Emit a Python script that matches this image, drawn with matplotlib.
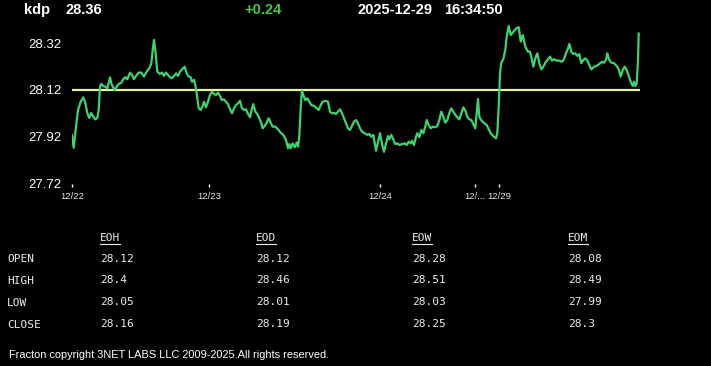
import matplotlib
matplotlib.use("Agg")
import matplotlib.pyplot as plt
from matplotlib.lines import Line2D

# ---------------- data ----------------
symbol = "kdp"
last_price = "28.36"
change = "+0.24"
date_str = "2025-12-29"
time_str = "16:34:50"
base_price = 28.12

t = [0, 1.7, 3.3, 6, 8.7, 11.3, 13.3, 15.3, 17.3, 19.3,
     21.3, 23.3, 25.3, 26.7, 28, 29.3, 31.3, 33.3, 35.3, 36.7,
     38, 39.3, 40.7, 42.7, 44.7, 46.7, 49.3, 51.3, 53.3, 55.3,
     58, 60, 62, 64, 66.7, 69.3, 72, 74.7, 77.3, 79.3,
     80.7, 82, 83.3, 85.3, 88, 90, 92, 94, 96, 98,
     100, 102, 104, 106, 108, 110, 112.7, 114.7, 116.7, 118.7,
     120, 122, 123.3, 124.7, 126.7, 128.7, 130.7, 132, 134, 136,
     138, 140, 142, 144, 146, 148, 150, 152, 154, 156,
     158, 160, 162, 164, 166, 168, 170, 172, 174, 176,
     178, 180, 181.3, 183.3, 185.3, 187.3, 189.3, 190.7, 192.7, 194.7,
     196.7, 198.7, 200.7, 203.3, 206, 208.7, 211.3, 214, 216, 217.3,
     218.7, 220.7, 222.7, 224.7, 226, 227.3, 228.7, 230, 231.3, 233.3,
     235.3, 237.3, 239.3, 242, 244.7, 246.7, 248.7, 250.7, 253.3, 256,
     258, 260, 262, 264, 266, 268, 270, 272, 274, 276,
     278, 280, 282, 284, 286, 288, 290, 292.7, 295.3, 297.3,
     299.3, 301.3, 302.7, 304, 306, 308, 310, 312, 314, 316,
     317.3, 319.3, 321.3, 323.3, 325.3, 327.3, 330, 332.7, 334.7, 336.7,
     338.7, 340, 342, 344, 345.3, 347.3, 349.3, 351.3, 353.3, 354.7,
     356.7, 358.7, 360.7, 363.3, 365.3, 367.3, 369.3, 371.3, 373.3, 375.3,
     377.3, 379.3, 381.3, 383.3, 385.3, 387.3, 389.3, 391.3, 393.3, 395.3,
     397.3, 399.3, 401.3, 403.3, 404.7, 406, 407.3, 408.7, 410.7, 412.7,
     414.7, 416.7, 418.7, 421.3, 424, 425.3, 426.7, 428, 429.3, 431.3,
     433.3, 434.7, 436.7, 438.7, 440.7, 442.7, 444.7, 446.7, 448.7, 450.7,
     453.3, 456, 458, 460, 461.3, 463.3, 465.3, 467.3, 469.3, 471.3,
     473.3, 476, 478, 480, 482, 484.7, 487.3, 490, 492, 494,
     496, 497.3, 499.3, 501.3, 503.3, 505.3, 507.3, 509.3, 511.3, 513.3,
     515.3, 517.3, 519.3, 522, 524.7, 527.3, 530, 532, 534, 535.3,
     537.3, 539.3, 542, 544.7, 546.7, 548.7, 550.7, 552.7, 554.7, 556.7,
     558.7, 560.7, 562, 563.3, 564.7, 566, 566.7]

price = [27.929, 27.874, 27.937, 28.035, 28.070, 28.089, 28.065, 28.022, 28.001, 28.022,
         28.006, 27.995, 28.001, 28.035, 28.134, 28.146, 28.137, 28.134, 28.127, 28.149,
         28.174, 28.149, 28.134, 28.120, 28.134, 28.146, 28.151, 28.166, 28.174, 28.166,
         28.194, 28.184, 28.166, 28.180, 28.194, 28.194, 28.177, 28.198, 28.212, 28.234,
         28.290, 28.333, 28.290, 28.198, 28.188, 28.194, 28.180, 28.194, 28.184, 28.174,
         28.170, 28.180, 28.191, 28.180, 28.198, 28.208, 28.219, 28.191, 28.177, 28.174,
         28.155, 28.163, 28.141, 28.106, 28.042, 28.035, 28.052, 28.070, 28.046, 28.070,
         28.099, 28.113, 28.103, 28.099, 28.109, 28.094, 28.077, 28.080, 28.070, 28.060,
         28.038, 28.021, 28.042, 28.056, 28.063, 28.074, 28.042, 28.035, 28.038, 28.018,
         28.004, 28.042, 28.060, 28.028, 28.018, 28.000, 27.978, 27.957, 27.967, 27.981,
         28.000, 27.981, 27.964, 27.964, 27.953, 27.938, 27.929, 27.907, 27.872, 27.890,
         27.872, 27.893, 27.876, 27.896, 27.879, 27.921, 28.049, 28.117, 28.099, 28.077,
         28.085, 28.070, 28.056, 28.052, 28.042, 28.035, 28.056, 28.070, 28.074, 28.070,
         28.028, 28.021, 28.023, 28.018, 28.028, 28.038, 28.021, 28.000, 27.978, 27.957,
         27.950, 27.967, 27.985, 27.992, 27.978, 27.957, 27.943, 27.936, 27.929, 27.933,
         27.921, 27.929, 27.893, 27.862, 27.900, 27.936, 27.890, 27.857, 27.893, 27.924,
         27.910, 27.929, 27.910, 27.890, 27.893, 27.886, 27.890, 27.893, 27.886, 27.900,
         27.893, 27.904, 27.886, 27.921, 27.936, 27.919, 27.950, 27.936, 27.964, 27.992,
         27.971, 27.957, 27.964, 27.961, 27.967, 27.992, 28.028, 28.006, 27.981, 27.992,
         28.021, 28.042, 28.028, 28.014, 28.004, 27.995, 28.021, 28.046, 28.032, 28.006,
         27.995, 27.992, 27.975, 27.957, 28.021, 28.082, 28.006, 27.995, 27.985, 27.978,
         27.971, 27.953, 27.936, 27.924, 27.914, 27.936, 28.049, 28.191, 28.236, 28.251,
         28.290, 28.347, 28.392, 28.354, 28.364, 28.375, 28.383, 28.387, 28.326, 28.354,
         28.304, 28.283, 28.283, 28.248, 28.219, 28.255, 28.276, 28.234, 28.208, 28.219,
         28.236, 28.251, 28.262, 28.245, 28.251, 28.245, 28.245, 28.240, 28.251, 28.276,
         28.297, 28.316, 28.283, 28.273, 28.276, 28.265, 28.273, 28.234, 28.248, 28.255,
         28.245, 28.226, 28.208, 28.219, 28.222, 28.231, 28.240, 28.236, 28.248, 28.276,
         28.248, 28.236, 28.234, 28.222, 28.208, 28.177, 28.205, 28.219, 28.205, 28.180,
         28.155, 28.137, 28.155, 28.137, 28.149, 28.248, 28.360]

y_ticks = [27.72, 27.92, 28.12, 28.32]
y_tick_labels = ["27.72", "27.92", "28.12", "28.32"]
x_tick_pos = [0, 137, 308, 403, 427]
x_tick_labels = ["12/22", "12/23", "12/24", "12/...", "12/29"]

table_cols = ["EOH", "EOD", "EOW", "EOM"]
table_rows = ["OPEN", "HIGH", "LOW", "CLOSE"]
eoh = ["28.12", "28.4", "28.05", "28.16"]
eod = ["28.12", "28.46", "28.01", "28.19"]
eow = ["28.28", "28.51", "28.03", "28.25"]
eom = ["28.08", "28.49", "27.99", "28.3"]

footer = "Fracton copyright 3NET LABS LLC 2009-2025.All rights reserved."

# ---------------- figure ----------------
W, H = 711, 366
fig = plt.figure(figsize=(W / 100, H / 100), dpi=100, facecolor="black")

def fx(px):
    return px / W

def fy(py):
    return 1 - py / H

ax = fig.add_axes([fx(72), fy(184), fx(640) - fx(72), (184 - 19.5) / H])
ax.set_facecolor("black")
ax.plot(t, price, color="#3ed36f", lw=1.6, solid_joinstyle="round", zorder=3)
ax.axhline(base_price, color="#e6f2a2", lw=1.6, zorder=2)
ax.set_xlim(0, 568)
ax.set_ylim(27.72, 28.42)
for s in ax.spines.values():
    s.set_visible(False)
ax.set_yticks(y_ticks)
ax.set_yticklabels(y_tick_labels, fontsize=9.5, family="Liberation Sans", color="white")
ax.tick_params(axis="y", length=0, pad=7.5)
ax.set_xticks(x_tick_pos)
ax.set_xticklabels(x_tick_labels, fontsize=6.8, family="Liberation Sans", color="#e6e6e6")
ax.tick_params(axis="x", length=2.5, width=1, color="white", pad=3.5, direction="out")

# header
hdr = dict(fontsize=10.5, family="Liberation Sans", weight="bold", va="center")
fig.text(fx(23.6), fy(10), symbol, color="white", **hdr)
fig.text(fx(65.8), fy(10), last_price, color="white", **hdr)
fig.text(fx(244.7), fy(10), change, color="#43c744", **hdr)
fig.text(fx(358), fy(10), date_str, color="white", **hdr)
fig.text(fx(444), fy(10), time_str, color="white", **hdr)

# table
mono = dict(fontsize=8, family="DejaVu Sans Mono", color="#ececec", va="center")
col_x = [100, 256, 412, 568]
row_y = [258.5, 280, 302, 324]
cols = [eoh, eod, eow, eom]
for cx, name, vals in zip(col_x, table_cols, cols):
    fig.text(fx(cx), fy(238.3), name, **mono)
    fig.add_artist(Line2D([fx(cx), fx(cx + 19.5)], [fy(243.8), fy(243.8)],
                          color="#ececec", lw=0.8, transform=fig.transFigure))
    for ry, v in zip(row_y, vals):
        fig.text(fx(cx), fy(ry), v, **mono)
for ry, lab in zip(row_y, table_rows):
    fig.text(fx(7), fy(ry + 1), lab, **mono)

fig.text(fx(9), fy(355), footer, fontsize=7.9, family="Liberation Sans",
         color="white", va="center")

fig.savefig("out.png", dpi=100, facecolor="black")
